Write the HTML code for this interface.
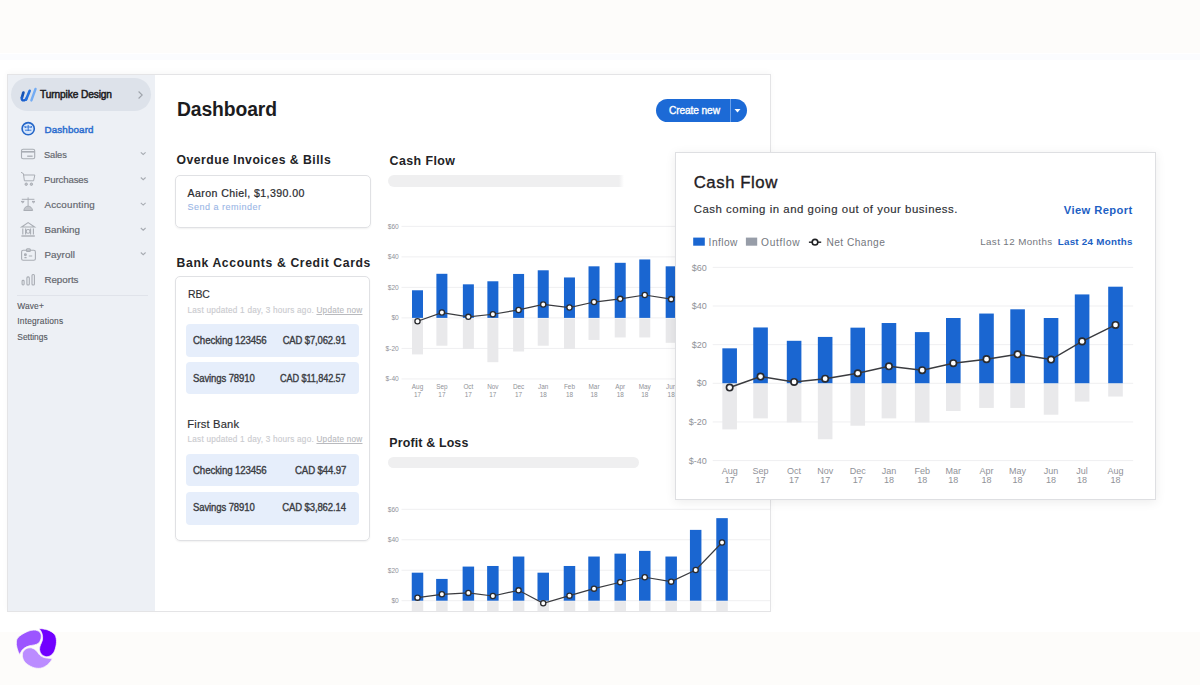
<!DOCTYPE html>
<html><head><meta charset="utf-8"><title>Wave Dashboard</title>
<style>
*{margin:0;padding:0;box-sizing:border-box}
html,body{width:1200px;height:685px;overflow:hidden;background:#fdfcfa;font-family:"Liberation Sans", sans-serif}
.t{position:absolute;white-space:pre;line-height:1;font-family:"Liberation Sans", sans-serif}
.abs{position:absolute}
svg text{font-family:"Liberation Sans", sans-serif}
</style></head><body>
<div class="abs" style="left:0;top:53px;width:1200px;height:579px;background:#fff"></div>
<div class="abs" style="left:0;top:53.5px;width:1200px;height:6px;background:#fbfcfe"></div>
<!-- frame -->
<div class="abs" style="left:7px;top:74px;width:764px;height:538px;border:1px solid #e4e4e6;background:#fff;box-shadow:0 -2px 6px rgba(0,0,0,0.03)"></div>
<div class="abs" style="left:8px;top:75px;width:147px;height:536px;background:#edf0f5"></div>
<div class="abs" style="left:11px;top:78px;width:140px;height:33px;border-radius:17px;background:#dde2ea"></div>
<div class="abs" style="left:17px;top:294.5px;width:131px;height:1px;background:#e0e3ea"></div>
<!-- create new button -->
<div class="abs" style="left:656px;top:98.5px;width:91px;height:23px;border-radius:12px;background:#1c6ad6"></div>
<div class="abs" style="left:730px;top:98.5px;width:1px;height:23px;background:#6aa0ea"></div>
<svg class="abs" style="left:0;top:0" width="1200" height="685">
<polygon points="734.5,109 740.5,109 737.5,112.5" fill="#fff"/>
</svg>
<!-- overdue card -->
<div class="abs" style="left:175px;top:175px;width:196px;height:53px;border:1px solid #e0e1e4;border-radius:5px;box-shadow:0 1px 2px rgba(0,0,0,0.06)"></div>
<!-- bank card -->
<div class="abs" style="left:175px;top:275.5px;width:195px;height:265.5px;border:1px solid #e0e1e4;border-radius:5px;box-shadow:0 1px 2px rgba(0,0,0,0.06)"></div>
<div class="abs" style="left:186px;top:324.2px;width:173px;height:32.5px;border-radius:4px;background:#e6eefb"></div>
<div class="abs" style="left:186px;top:362.2px;width:173px;height:32.3px;border-radius:4px;background:#e6eefb"></div>
<div class="abs" style="left:186px;top:454.1px;width:173px;height:32.4px;border-radius:4px;background:#e6eefb"></div>
<div class="abs" style="left:186px;top:491.8px;width:173px;height:32.8px;border-radius:4px;background:#e6eefb"></div>
<!-- skeleton bars -->
<div class="abs" style="left:388px;top:175.3px;width:236px;height:11.6px;border-radius:6px 0 0 6px;background:linear-gradient(90deg,#efeff0 0,#efeff0 231px,rgba(239,239,240,0) 236px)"></div>
<div class="abs" style="left:388.3px;top:457.3px;width:251px;height:11px;border-radius:6px;background:#efeff0"></div>
<!-- mid charts -->
<svg class="abs" style="left:0;top:0" width="1200" height="611" viewBox="0 0 1200 611">
<line x1="401.5" y1="226.34" x2="676" y2="226.34" stroke="#efeff1" stroke-width="1"/>
<text x="398.8" y="228.65" font-size="6.6" text-anchor="end" fill="#909298">$60</text>
<line x1="401.5" y1="256.86" x2="676" y2="256.86" stroke="#efeff1" stroke-width="1"/>
<text x="398.8" y="259.17" font-size="6.6" text-anchor="end" fill="#909298">$40</text>
<line x1="401.5" y1="287.38" x2="676" y2="287.38" stroke="#efeff1" stroke-width="1"/>
<text x="398.8" y="289.69" font-size="6.6" text-anchor="end" fill="#909298">$20</text>
<line x1="401.5" y1="317.90" x2="676" y2="317.90" stroke="#efeff1" stroke-width="1"/>
<text x="398.8" y="320.21" font-size="6.6" text-anchor="end" fill="#909298">$0</text>
<line x1="401.5" y1="348.42" x2="676" y2="348.42" stroke="#efeff1" stroke-width="1"/>
<text x="398.8" y="350.73" font-size="6.6" text-anchor="end" fill="#909298">$-20</text>
<line x1="401.5" y1="378.94" x2="676" y2="378.94" stroke="#efeff1" stroke-width="1"/>
<text x="398.8" y="381.25" font-size="6.6" text-anchor="end" fill="#909298">$-40</text>
<rect x="412.00" y="290.28" width="11" height="27.62" fill="#1a66d1"/>
<rect x="412.00" y="318.40" width="11" height="36.01" fill="#e9e9eb"/>
<text x="417.50" y="389.0" font-size="6.4" text-anchor="middle" fill="#909298">Aug</text>
<text x="417.50" y="396.6" font-size="6.4" text-anchor="middle" fill="#909298">17</text>
<rect x="436.39" y="273.80" width="11" height="44.10" fill="#1a66d1"/>
<rect x="436.39" y="318.40" width="11" height="27.32" fill="#e9e9eb"/>
<text x="441.89" y="389.0" font-size="6.4" text-anchor="middle" fill="#909298">Sep</text>
<text x="441.89" y="396.6" font-size="6.4" text-anchor="middle" fill="#909298">17</text>
<rect x="462.87" y="284.33" width="11" height="33.57" fill="#1a66d1"/>
<rect x="462.87" y="318.40" width="11" height="30.52" fill="#e9e9eb"/>
<text x="468.37" y="389.0" font-size="6.4" text-anchor="middle" fill="#909298">Oct</text>
<text x="468.37" y="396.6" font-size="6.4" text-anchor="middle" fill="#909298">17</text>
<rect x="487.37" y="281.28" width="11" height="36.62" fill="#1a66d1"/>
<rect x="487.37" y="318.40" width="11" height="43.80" fill="#e9e9eb"/>
<text x="492.87" y="389.0" font-size="6.4" text-anchor="middle" fill="#909298">Nov</text>
<text x="492.87" y="396.6" font-size="6.4" text-anchor="middle" fill="#909298">17</text>
<rect x="513.10" y="273.95" width="11" height="43.95" fill="#1a66d1"/>
<rect x="513.10" y="318.40" width="11" height="33.11" fill="#e9e9eb"/>
<text x="518.60" y="389.0" font-size="6.4" text-anchor="middle" fill="#909298">Dec</text>
<text x="518.60" y="396.6" font-size="6.4" text-anchor="middle" fill="#909298">17</text>
<rect x="537.73" y="270.29" width="11" height="47.61" fill="#1a66d1"/>
<rect x="537.73" y="318.40" width="11" height="27.32" fill="#e9e9eb"/>
<text x="543.23" y="389.0" font-size="6.4" text-anchor="middle" fill="#909298">Jan</text>
<text x="543.23" y="396.6" font-size="6.4" text-anchor="middle" fill="#909298">18</text>
<rect x="563.97" y="277.46" width="11" height="40.44" fill="#1a66d1"/>
<rect x="563.97" y="318.40" width="11" height="30.52" fill="#e9e9eb"/>
<text x="569.47" y="389.0" font-size="6.4" text-anchor="middle" fill="#909298">Feb</text>
<text x="569.47" y="396.6" font-size="6.4" text-anchor="middle" fill="#909298">18</text>
<rect x="588.52" y="266.32" width="11" height="51.58" fill="#1a66d1"/>
<rect x="588.52" y="318.40" width="11" height="21.52" fill="#e9e9eb"/>
<text x="594.02" y="389.0" font-size="6.4" text-anchor="middle" fill="#909298">Mar</text>
<text x="594.02" y="396.6" font-size="6.4" text-anchor="middle" fill="#909298">18</text>
<rect x="614.72" y="262.81" width="11" height="55.09" fill="#1a66d1"/>
<rect x="614.72" y="318.40" width="11" height="19.07" fill="#e9e9eb"/>
<text x="620.22" y="389.0" font-size="6.4" text-anchor="middle" fill="#909298">Apr</text>
<text x="620.22" y="396.6" font-size="6.4" text-anchor="middle" fill="#909298">18</text>
<rect x="639.27" y="259.45" width="11" height="58.45" fill="#1a66d1"/>
<rect x="639.27" y="318.40" width="11" height="19.07" fill="#e9e9eb"/>
<text x="644.77" y="389.0" font-size="6.4" text-anchor="middle" fill="#909298">May</text>
<text x="644.77" y="396.6" font-size="6.4" text-anchor="middle" fill="#909298">18</text>
<rect x="665.67" y="266.32" width="11" height="51.58" fill="#1a66d1"/>
<rect x="665.67" y="318.40" width="11" height="24.42" fill="#e9e9eb"/>
<text x="671.17" y="389.0" font-size="6.4" text-anchor="middle" fill="#909298">Jun</text>
<text x="671.17" y="396.6" font-size="6.4" text-anchor="middle" fill="#909298">18</text>
<rect x="690.18" y="247.70" width="11" height="70.20" fill="#1a66d1"/>
<rect x="690.18" y="318.40" width="11" height="14.04" fill="#e9e9eb"/>
<text x="695.68" y="389.0" font-size="6.4" text-anchor="middle" fill="#909298">Jul</text>
<text x="695.68" y="396.6" font-size="6.4" text-anchor="middle" fill="#909298">18</text>
<rect x="716.54" y="241.60" width="11" height="76.30" fill="#1a66d1"/>
<rect x="716.54" y="318.40" width="11" height="10.07" fill="#e9e9eb"/>
<text x="722.04" y="389.0" font-size="6.4" text-anchor="middle" fill="#909298">Aug</text>
<text x="722.04" y="396.6" font-size="6.4" text-anchor="middle" fill="#909298">18</text>
<polyline points="417.50,321.26 441.89,312.56 468.37,316.83 492.87,314.24 518.60,309.96 543.23,304.47 569.47,307.52 594.02,302.03 620.22,298.82 644.77,295.01 671.17,299.13 695.68,284.79 722.04,271.81" fill="none" stroke="#3a3b3f" stroke-width="1.2"/>
<circle cx="417.50" cy="321.26" r="2.6" fill="#fff" stroke="#2a2b2f" stroke-width="1.32"/>
<circle cx="441.89" cy="312.56" r="2.6" fill="#fff" stroke="#2a2b2f" stroke-width="1.32"/>
<circle cx="468.37" cy="316.83" r="2.6" fill="#fff" stroke="#2a2b2f" stroke-width="1.32"/>
<circle cx="492.87" cy="314.24" r="2.6" fill="#fff" stroke="#2a2b2f" stroke-width="1.32"/>
<circle cx="518.60" cy="309.96" r="2.6" fill="#fff" stroke="#2a2b2f" stroke-width="1.32"/>
<circle cx="543.23" cy="304.47" r="2.6" fill="#fff" stroke="#2a2b2f" stroke-width="1.32"/>
<circle cx="569.47" cy="307.52" r="2.6" fill="#fff" stroke="#2a2b2f" stroke-width="1.32"/>
<circle cx="594.02" cy="302.03" r="2.6" fill="#fff" stroke="#2a2b2f" stroke-width="1.32"/>
<circle cx="620.22" cy="298.82" r="2.6" fill="#fff" stroke="#2a2b2f" stroke-width="1.32"/>
<circle cx="644.77" cy="295.01" r="2.6" fill="#fff" stroke="#2a2b2f" stroke-width="1.32"/>
<circle cx="671.17" cy="299.13" r="2.6" fill="#fff" stroke="#2a2b2f" stroke-width="1.32"/>
<circle cx="695.68" cy="284.79" r="2.6" fill="#fff" stroke="#2a2b2f" stroke-width="1.32"/>
<circle cx="722.04" cy="271.81" r="2.6" fill="#fff" stroke="#2a2b2f" stroke-width="1.32"/>
<line x1="401.5" y1="509.32" x2="770" y2="509.32" stroke="#efeff1" stroke-width="1"/>
<text x="398.8" y="511.63" font-size="6.6" text-anchor="end" fill="#909298">$60</text>
<line x1="401.5" y1="539.78" x2="770" y2="539.78" stroke="#efeff1" stroke-width="1"/>
<text x="398.8" y="542.09" font-size="6.6" text-anchor="end" fill="#909298">$40</text>
<line x1="401.5" y1="570.24" x2="770" y2="570.24" stroke="#efeff1" stroke-width="1"/>
<text x="398.8" y="572.55" font-size="6.6" text-anchor="end" fill="#909298">$20</text>
<line x1="401.5" y1="600.70" x2="770" y2="600.70" stroke="#efeff1" stroke-width="1"/>
<text x="398.8" y="603.01" font-size="6.6" text-anchor="end" fill="#909298">$0</text>
<line x1="401.5" y1="631.16" x2="770" y2="631.16" stroke="#efeff1" stroke-width="1"/>
<text x="398.8" y="633.47" font-size="6.6" text-anchor="end" fill="#909298">$-20</text>
<line x1="401.5" y1="661.62" x2="770" y2="661.62" stroke="#efeff1" stroke-width="1"/>
<text x="398.8" y="663.93" font-size="6.6" text-anchor="end" fill="#909298">$-40</text>
<rect x="411.75" y="572.68" width="11.5" height="28.02" fill="#1a66d1"/>
<rect x="411.75" y="601.20" width="11.5" height="12.18" fill="#e9e9eb"/>
<rect x="436.14" y="578.92" width="11.5" height="21.78" fill="#1a66d1"/>
<rect x="436.14" y="601.20" width="11.5" height="12.18" fill="#e9e9eb"/>
<rect x="462.62" y="566.58" width="11.5" height="34.12" fill="#1a66d1"/>
<rect x="462.62" y="601.20" width="11.5" height="12.18" fill="#e9e9eb"/>
<rect x="487.12" y="565.98" width="11.5" height="34.72" fill="#1a66d1"/>
<rect x="487.12" y="601.20" width="11.5" height="12.18" fill="#e9e9eb"/>
<rect x="512.85" y="556.53" width="11.5" height="44.17" fill="#1a66d1"/>
<rect x="512.85" y="601.20" width="11.5" height="12.18" fill="#e9e9eb"/>
<rect x="537.48" y="572.68" width="11.5" height="28.02" fill="#1a66d1"/>
<rect x="537.48" y="601.20" width="11.5" height="12.18" fill="#e9e9eb"/>
<rect x="563.72" y="565.98" width="11.5" height="34.72" fill="#1a66d1"/>
<rect x="563.72" y="601.20" width="11.5" height="12.18" fill="#e9e9eb"/>
<rect x="588.27" y="556.53" width="11.5" height="44.17" fill="#1a66d1"/>
<rect x="588.27" y="601.20" width="11.5" height="12.18" fill="#e9e9eb"/>
<rect x="614.47" y="553.64" width="11.5" height="47.06" fill="#1a66d1"/>
<rect x="614.47" y="601.20" width="11.5" height="12.18" fill="#e9e9eb"/>
<rect x="639.02" y="550.90" width="11.5" height="49.80" fill="#1a66d1"/>
<rect x="639.02" y="601.20" width="11.5" height="12.18" fill="#e9e9eb"/>
<rect x="665.42" y="556.53" width="11.5" height="44.17" fill="#1a66d1"/>
<rect x="665.42" y="601.20" width="11.5" height="12.18" fill="#e9e9eb"/>
<rect x="689.93" y="529.88" width="11.5" height="70.82" fill="#1a66d1"/>
<rect x="689.93" y="601.20" width="11.5" height="12.18" fill="#e9e9eb"/>
<rect x="716.29" y="518.15" width="11.5" height="82.55" fill="#1a66d1"/>
<rect x="716.29" y="601.20" width="11.5" height="12.18" fill="#e9e9eb"/>
<polyline points="417.50,597.65 441.89,594.30 468.37,592.93 492.87,595.98 518.60,590.34 543.23,603.29 569.47,595.67 594.02,588.67 620.22,582.27 644.77,577.25 671.17,581.66 695.68,569.94 722.04,542.52" fill="none" stroke="#3a3b3f" stroke-width="1.2"/>
<circle cx="417.50" cy="597.65" r="2.6" fill="#fff" stroke="#2a2b2f" stroke-width="1.32"/>
<circle cx="441.89" cy="594.30" r="2.6" fill="#fff" stroke="#2a2b2f" stroke-width="1.32"/>
<circle cx="468.37" cy="592.93" r="2.6" fill="#fff" stroke="#2a2b2f" stroke-width="1.32"/>
<circle cx="492.87" cy="595.98" r="2.6" fill="#fff" stroke="#2a2b2f" stroke-width="1.32"/>
<circle cx="518.60" cy="590.34" r="2.6" fill="#fff" stroke="#2a2b2f" stroke-width="1.32"/>
<circle cx="543.23" cy="603.29" r="2.6" fill="#fff" stroke="#2a2b2f" stroke-width="1.32"/>
<circle cx="569.47" cy="595.67" r="2.6" fill="#fff" stroke="#2a2b2f" stroke-width="1.32"/>
<circle cx="594.02" cy="588.67" r="2.6" fill="#fff" stroke="#2a2b2f" stroke-width="1.32"/>
<circle cx="620.22" cy="582.27" r="2.6" fill="#fff" stroke="#2a2b2f" stroke-width="1.32"/>
<circle cx="644.77" cy="577.25" r="2.6" fill="#fff" stroke="#2a2b2f" stroke-width="1.32"/>
<circle cx="671.17" cy="581.66" r="2.6" fill="#fff" stroke="#2a2b2f" stroke-width="1.32"/>
<circle cx="695.68" cy="569.94" r="2.6" fill="#fff" stroke="#2a2b2f" stroke-width="1.32"/>
<circle cx="722.04" cy="542.52" r="2.6" fill="#fff" stroke="#2a2b2f" stroke-width="1.32"/>
</svg>
<!-- popup -->
<div class="abs" style="left:674.8px;top:152px;width:481.3px;height:348px;background:#fff;border:1px solid #dedfe2;box-shadow:0 2px 10px rgba(0,0,0,0.08)"></div>
<svg class="abs" style="left:0;top:0" width="1200" height="685">
<line x1="712.7" y1="267.38" x2="1133.2" y2="267.38" stroke="#efeff1" stroke-width="1"/>
<text x="706.8" y="270.53" font-size="9.0" text-anchor="end" fill="#909298">$60</text>
<line x1="712.7" y1="306.02" x2="1133.2" y2="306.02" stroke="#efeff1" stroke-width="1"/>
<text x="706.8" y="309.17" font-size="9.0" text-anchor="end" fill="#909298">$40</text>
<line x1="712.7" y1="344.66" x2="1133.2" y2="344.66" stroke="#efeff1" stroke-width="1"/>
<text x="706.8" y="347.81" font-size="9.0" text-anchor="end" fill="#909298">$20</text>
<line x1="712.7" y1="383.30" x2="1133.2" y2="383.30" stroke="#efeff1" stroke-width="1"/>
<text x="706.8" y="386.45" font-size="9.0" text-anchor="end" fill="#909298">$0</text>
<line x1="712.7" y1="421.94" x2="1133.2" y2="421.94" stroke="#efeff1" stroke-width="1"/>
<text x="706.8" y="425.09" font-size="9.0" text-anchor="end" fill="#909298">$-20</text>
<line x1="712.7" y1="460.58" x2="1133.2" y2="460.58" stroke="#efeff1" stroke-width="1"/>
<text x="706.8" y="463.73" font-size="9.0" text-anchor="end" fill="#909298">$-40</text>
<rect x="722.35" y="348.33" width="14.6" height="34.97" fill="#1a66d1"/>
<rect x="722.35" y="383.80" width="14.6" height="45.60" fill="#e9e9eb"/>
<text x="729.65" y="473.8" font-size="9.0" text-anchor="middle" fill="#909298">Aug</text>
<text x="729.65" y="483.3" font-size="9.0" text-anchor="middle" fill="#909298">17</text>
<rect x="753.25" y="327.47" width="14.6" height="55.83" fill="#1a66d1"/>
<rect x="753.25" y="383.80" width="14.6" height="34.58" fill="#e9e9eb"/>
<text x="760.55" y="473.8" font-size="9.0" text-anchor="middle" fill="#909298">Sep</text>
<text x="760.55" y="483.3" font-size="9.0" text-anchor="middle" fill="#909298">17</text>
<rect x="786.80" y="340.80" width="14.6" height="42.50" fill="#1a66d1"/>
<rect x="786.80" y="383.80" width="14.6" height="38.64" fill="#e9e9eb"/>
<text x="794.10" y="473.8" font-size="9.0" text-anchor="middle" fill="#909298">Oct</text>
<text x="794.10" y="483.3" font-size="9.0" text-anchor="middle" fill="#909298">17</text>
<rect x="817.85" y="336.93" width="14.6" height="46.37" fill="#1a66d1"/>
<rect x="817.85" y="383.80" width="14.6" height="55.45" fill="#e9e9eb"/>
<text x="825.15" y="473.8" font-size="9.0" text-anchor="middle" fill="#909298">Nov</text>
<text x="825.15" y="483.3" font-size="9.0" text-anchor="middle" fill="#909298">17</text>
<rect x="850.45" y="327.66" width="14.6" height="55.64" fill="#1a66d1"/>
<rect x="850.45" y="383.80" width="14.6" height="41.92" fill="#e9e9eb"/>
<text x="857.75" y="473.8" font-size="9.0" text-anchor="middle" fill="#909298">Dec</text>
<text x="857.75" y="483.3" font-size="9.0" text-anchor="middle" fill="#909298">17</text>
<rect x="881.65" y="323.02" width="14.6" height="60.28" fill="#1a66d1"/>
<rect x="881.65" y="383.80" width="14.6" height="34.58" fill="#e9e9eb"/>
<text x="888.95" y="473.8" font-size="9.0" text-anchor="middle" fill="#909298">Jan</text>
<text x="888.95" y="483.3" font-size="9.0" text-anchor="middle" fill="#909298">18</text>
<rect x="914.90" y="332.10" width="14.6" height="51.20" fill="#1a66d1"/>
<rect x="914.90" y="383.80" width="14.6" height="38.64" fill="#e9e9eb"/>
<text x="922.20" y="473.8" font-size="9.0" text-anchor="middle" fill="#909298">Feb</text>
<text x="922.20" y="483.3" font-size="9.0" text-anchor="middle" fill="#909298">18</text>
<rect x="946.00" y="318.00" width="14.6" height="65.30" fill="#1a66d1"/>
<rect x="946.00" y="383.80" width="14.6" height="27.24" fill="#e9e9eb"/>
<text x="953.30" y="473.8" font-size="9.0" text-anchor="middle" fill="#909298">Mar</text>
<text x="953.30" y="483.3" font-size="9.0" text-anchor="middle" fill="#909298">18</text>
<rect x="979.20" y="313.55" width="14.6" height="69.75" fill="#1a66d1"/>
<rect x="979.20" y="383.80" width="14.6" height="24.15" fill="#e9e9eb"/>
<text x="986.50" y="473.8" font-size="9.0" text-anchor="middle" fill="#909298">Apr</text>
<text x="986.50" y="483.3" font-size="9.0" text-anchor="middle" fill="#909298">18</text>
<rect x="1010.30" y="309.30" width="14.6" height="74.00" fill="#1a66d1"/>
<rect x="1010.30" y="383.80" width="14.6" height="24.15" fill="#e9e9eb"/>
<text x="1017.60" y="473.8" font-size="9.0" text-anchor="middle" fill="#909298">May</text>
<text x="1017.60" y="483.3" font-size="9.0" text-anchor="middle" fill="#909298">18</text>
<rect x="1043.75" y="318.00" width="14.6" height="65.30" fill="#1a66d1"/>
<rect x="1043.75" y="383.80" width="14.6" height="30.91" fill="#e9e9eb"/>
<text x="1051.05" y="473.8" font-size="9.0" text-anchor="middle" fill="#909298">Jun</text>
<text x="1051.05" y="483.3" font-size="9.0" text-anchor="middle" fill="#909298">18</text>
<rect x="1074.80" y="294.43" width="14.6" height="88.87" fill="#1a66d1"/>
<rect x="1074.80" y="383.80" width="14.6" height="17.77" fill="#e9e9eb"/>
<text x="1082.10" y="473.8" font-size="9.0" text-anchor="middle" fill="#909298">Jul</text>
<text x="1082.10" y="483.3" font-size="9.0" text-anchor="middle" fill="#909298">18</text>
<rect x="1108.20" y="286.70" width="14.6" height="96.60" fill="#1a66d1"/>
<rect x="1108.20" y="383.80" width="14.6" height="12.75" fill="#e9e9eb"/>
<text x="1115.50" y="473.8" font-size="9.0" text-anchor="middle" fill="#909298">Aug</text>
<text x="1115.50" y="483.3" font-size="9.0" text-anchor="middle" fill="#909298">18</text>
<polyline points="729.65,387.55 760.55,376.54 794.10,381.95 825.15,378.66 857.75,373.25 888.95,366.30 922.20,370.16 953.30,363.21 986.50,359.15 1017.60,354.32 1051.05,359.54 1082.10,341.38 1115.50,324.95" fill="none" stroke="#3a3b3f" stroke-width="1.5"/>
<circle cx="729.65" cy="387.55" r="3.2" fill="#fff" stroke="#2a2b2f" stroke-width="1.65"/>
<circle cx="760.55" cy="376.54" r="3.2" fill="#fff" stroke="#2a2b2f" stroke-width="1.65"/>
<circle cx="794.10" cy="381.95" r="3.2" fill="#fff" stroke="#2a2b2f" stroke-width="1.65"/>
<circle cx="825.15" cy="378.66" r="3.2" fill="#fff" stroke="#2a2b2f" stroke-width="1.65"/>
<circle cx="857.75" cy="373.25" r="3.2" fill="#fff" stroke="#2a2b2f" stroke-width="1.65"/>
<circle cx="888.95" cy="366.30" r="3.2" fill="#fff" stroke="#2a2b2f" stroke-width="1.65"/>
<circle cx="922.20" cy="370.16" r="3.2" fill="#fff" stroke="#2a2b2f" stroke-width="1.65"/>
<circle cx="953.30" cy="363.21" r="3.2" fill="#fff" stroke="#2a2b2f" stroke-width="1.65"/>
<circle cx="986.50" cy="359.15" r="3.2" fill="#fff" stroke="#2a2b2f" stroke-width="1.65"/>
<circle cx="1017.60" cy="354.32" r="3.2" fill="#fff" stroke="#2a2b2f" stroke-width="1.65"/>
<circle cx="1051.05" cy="359.54" r="3.2" fill="#fff" stroke="#2a2b2f" stroke-width="1.65"/>
<circle cx="1082.10" cy="341.38" r="3.2" fill="#fff" stroke="#2a2b2f" stroke-width="1.65"/>
<circle cx="1115.50" cy="324.95" r="3.2" fill="#fff" stroke="#2a2b2f" stroke-width="1.65"/>
<rect x="693.2" y="237.6" width="11.6" height="8.1" fill="#1a66d1"/>
<rect x="745.9" y="237.6" width="11.3" height="8.1" fill="#979da8"/>
<line x1="808.9" y1="242.2" x2="821.2" y2="242.2" stroke="#1f2023" stroke-width="1.4"/>
<circle cx="815" cy="242.2" r="2.8" fill="#fff" stroke="#1f2023" stroke-width="1.6"/>
</svg>

<svg class="abs" style="left:0;top:0" width="200" height="350">
<!-- wave logo -->
<g fill="none" stroke-linecap="round">
<path d="M23.4,92.6 L21.9,97.6" stroke="#1452b4" stroke-width="2.7"/>
<path d="M21.9,97.6 Q21.2,100.8 24.4,100.3 Q25.8,100 26.4,98.6" stroke="#1b5fcc" stroke-width="2.5"/>
<path d="M29.7,90.8 L26.1,99.6" stroke="#2571dc" stroke-width="2.6"/>
<path d="M35.5,89 L31.4,100.4" stroke="#74acf3" stroke-width="2.4"/>
</g>
<!-- pill chevron -->
<path d="M138.6,91.5 L142.2,95 L138.6,98.5" fill="none" stroke="#9ea3ab" stroke-width="1.1"/>
<!-- dashboard icon -->
<circle cx="28.2" cy="128.7" r="6.1" fill="#d5e5fb" stroke="#2466c8" stroke-width="1.6"/>
<path d="M24.5,127 L31.9,127 M28.2,125 L28.2,131 M25,130.2 L31.4,130.2 M24.8,126 l0.8,2 M31.6,126 l-0.8,2" stroke="#2d6fd2" stroke-width="0.9" fill="none"/>
<!-- sales -->
<g fill="none" stroke="#a9adb4" stroke-width="1.1">
<rect x="21.5" y="149.2" width="13.2" height="9.6" rx="1.6"/>
<path d="M21.5,151.8 H34.7" stroke-width="1.6"/>
<path d="M27.2,156.2 H32.6" stroke-width="1.3"/>
</g>
<!-- purchases -->
<g fill="none" stroke="#a9adb4" stroke-width="1" stroke-linejoin="round">
<path d="M21,172.3 L23.4,173.6 L24.4,180.8 L33.6,180.8 L34.8,175 L23.7,175"/>
<circle cx="26.2" cy="184.2" r="1.2" fill="#c3c6cc"/>
<circle cx="31.4" cy="184.2" r="1.2" fill="#c3c6cc"/>
</g>
<!-- accounting -->
<g fill="none" stroke="#a9adb4" stroke-width="1">
<path d="M21.8,199.3 H34.4 M28.1,197.4 V206.3"/>
<path d="M21.2,201.4 Q22.7,204.2 24.2,201.4 Z M32,201.4 Q33.5,204.2 35,201.4 Z" fill="#c3c6cc"/>
<path d="M23.8,210.5 Q24.6,206.2 28.1,206.2 Q31.6,206.2 32.6,210.5 Z" fill="#c3c6cc"/>
</g>
<!-- banking -->
<g fill="none" stroke="#a9adb4" stroke-width="1.1">
<path d="M21.6,227 L28.1,222.6 L34.6,227 Z"/>
<path d="M22.8,228.6 V234.4 M25.6,228.6 V234.4 M30.6,228.6 V234.4 M33.4,228.6 V234.4"/>
<circle cx="28.1" cy="231.4" r="1.9"/>
<path d="M21.4,236 H34.8" stroke-width="1.4"/>
</g>
<!-- payroll -->
<g fill="none" stroke="#a9adb4" stroke-width="1.1">
<rect x="21.6" y="250.3" width="13.8" height="10" rx="1.6"/>
<rect x="26.4" y="248.9" width="4" height="2.6" rx="1"/>
<circle cx="25.4" cy="254.8" r="0.9" fill="#b5b9c0"/>
<path d="M24.4,257.6 H26.6 M28.8,256 H32.2" />
</g>
<!-- reports -->
<g fill="none" stroke="#a9adb4" stroke-width="1.1">
<rect x="22.1" y="280.4" width="2" height="4.6" rx="0.9"/>
<rect x="26.9" y="276.9" width="2.4" height="8.1" rx="1"/>
<rect x="32" y="274.5" width="2.4" height="10.5" rx="1"/>
</g>
<!-- chevrons -->
<g fill="none" stroke="#a7abb2" stroke-width="1.05">
<path d="M140.8,152.3 l2.4,2.2 l2.4,-2.2"/>
<path d="M140.8,177.5 l2.4,2.2 l2.4,-2.2"/>
<path d="M140.8,202.9 l2.4,2.2 l2.4,-2.2"/>
<path d="M140.8,228 l2.4,2.2 l2.4,-2.2"/>
<path d="M140.8,252.5 l2.4,2.2 l2.4,-2.2"/>
</g>
</svg>
<!-- purple logo -->
<svg class="abs" style="left:10px;top:620px" width="55" height="55" viewBox="0 0 685 685">
<g stroke="#fdfcfa" stroke-width="9" stroke-linejoin="round">
<path d="M120,432 C95,380 72,320 80,262 C88,215 140,180 205,150 C265,120 330,115 370,150 C400,180 395,240 360,285 C330,312 280,312 240,322 C190,335 150,365 130,410 Z" fill="#9c55ff"/>
<path d="M362,108 C430,105 520,130 560,185 C590,240 580,320 555,385 C530,440 480,465 440,455 C400,445 372,415 368,370 C365,320 395,290 405,245 C412,190 395,140 362,108 Z" fill="#7100ff"/>
<path d="M160,400 C180,360 225,340 270,348 C315,358 340,395 360,425 C390,462 440,480 528,478 C500,535 450,585 380,600 C310,610 240,575 195,535 C160,500 145,450 160,400 Z" fill="#bb8cff"/>
</g>
</svg>

<div class="t" style="left:40.00px;top:89.57px;font-size:10.2px;font-weight:400;color:#1d1d1f;letter-spacing:-0.120px;transform:scaleX(0.9982);transform-origin:left center;-webkit-text-stroke:0.5px #1d1d1f;">Turnpike Design</div><div class="t" style="left:44.50px;top:124.70px;font-size:9.8px;font-weight:400;color:#2b6dcf;letter-spacing:0.133px;-webkit-text-stroke:0.45px #2b6dcf;">Dashboard</div><div class="t" style="left:44.40px;top:150.00px;font-size:9.8px;font-weight:400;color:#63666d;letter-spacing:-0.120px;transform:scaleX(0.9486);transform-origin:left center;-webkit-text-stroke:0.18px #63666d;">Sales</div><div class="t" style="left:44.40px;top:175.00px;font-size:9.8px;font-weight:400;color:#63666d;letter-spacing:-0.120px;transform:scaleX(0.9793);transform-origin:left center;-webkit-text-stroke:0.18px #63666d;">Purchases</div><div class="t" style="left:44.40px;top:200.20px;font-size:9.8px;font-weight:400;color:#63666d;letter-spacing:0.213px;-webkit-text-stroke:0.18px #63666d;">Accounting</div><div class="t" style="left:44.40px;top:225.20px;font-size:9.8px;font-weight:400;color:#63666d;letter-spacing:0.032px;-webkit-text-stroke:0.18px #63666d;">Banking</div><div class="t" style="left:44.40px;top:250.20px;font-size:9.8px;font-weight:400;color:#63666d;letter-spacing:0.108px;-webkit-text-stroke:0.18px #63666d;">Payroll</div><div class="t" style="left:44.40px;top:275.20px;font-size:9.8px;font-weight:400;color:#63666d;letter-spacing:-0.035px;-webkit-text-stroke:0.18px #63666d;">Reports</div><div class="t" style="left:17.30px;top:301.69px;font-size:8.4px;font-weight:400;color:#55585e;letter-spacing:0.125px;-webkit-text-stroke:0.12px #55585e;">Wave+</div><div class="t" style="left:17.30px;top:317.19px;font-size:8.4px;font-weight:400;color:#55585e;letter-spacing:0.185px;-webkit-text-stroke:0.12px #55585e;">Integrations</div><div class="t" style="left:17.30px;top:332.99px;font-size:8.4px;font-weight:400;color:#55585e;letter-spacing:0.005px;-webkit-text-stroke:0.12px #55585e;">Settings</div><div class="t" style="left:177.00px;top:99.99px;font-size:19.5px;font-weight:700;color:#1c1c1e;letter-spacing:-0.120px;transform:scaleX(0.9911);transform-origin:left center;">Dashboard</div><div class="t" style="left:668.50px;top:106.08px;font-size:10.3px;font-weight:400;color:#ffffff;letter-spacing:-0.120px;transform:scaleX(0.9888);transform-origin:left center;-webkit-text-stroke:0.35px #ffffff;">Create new</div><div class="t" style="left:176.60px;top:154.47px;font-size:12.2px;font-weight:700;color:#222326;letter-spacing:0.486px;">Overdue Invoices &amp; Bills</div><div class="t" style="left:187.50px;top:188.43px;font-size:10.6px;font-weight:400;color:#2a2b2f;letter-spacing:0.406px;-webkit-text-stroke:0.22px #2a2b2f;">Aaron Chiel, $1,390.00</div><div class="t" style="left:187.50px;top:202.78px;font-size:9.0px;font-weight:400;color:#9ab6e6;letter-spacing:0.497px;-webkit-text-stroke:0.1px #9ab6e6;">Send a reminder</div><div class="t" style="left:176.60px;top:256.77px;font-size:12.2px;font-weight:700;color:#222326;letter-spacing:0.623px;">Bank Accounts &amp; Credit Cards</div><div class="t" style="left:187.50px;top:289.12px;font-size:11.2px;font-weight:400;color:#2e2f33;letter-spacing:-0.120px;transform:scaleX(0.9365);transform-origin:left center;-webkit-text-stroke:0.15px #2e2f33;">RBC</div><div class="t" style="left:187.30px;top:419.02px;font-size:11.2px;font-weight:400;color:#2e2f33;letter-spacing:0.160px;-webkit-text-stroke:0.15px #2e2f33;">First Bank</div><div class="t" style="left:187.50px;top:306.86px;font-size:8.2px;font-weight:400;color:#cbccd0;letter-spacing:0.229px;-webkit-text-stroke:0.15px #cbccd0;">Last updated 1 day, 3 hours ago. <span style="text-decoration:underline;color:#b9babe;-webkit-text-stroke:0.12px #b9babe">Update now</span></div><div class="t" style="left:187.50px;top:436.36px;font-size:8.2px;font-weight:400;color:#cbccd0;letter-spacing:0.229px;-webkit-text-stroke:0.15px #cbccd0;">Last updated 1 day, 3 hours ago. <span style="text-decoration:underline;color:#b9babe;-webkit-text-stroke:0.12px #b9babe">Update now</span></div><div class="t" style="left:193.30px;top:336.34px;font-size:10.0px;font-weight:400;color:#3a3c42;letter-spacing:-0.120px;transform:scaleX(0.9677);transform-origin:left center;-webkit-text-stroke:0.35px #3a3c42;">Checking 123456</div><div class="t" style="left:279.05px;top:336.34px;font-size:10.0px;font-weight:400;color:#3a3c42;letter-spacing:-0.120px;transform:scaleX(0.9455);transform-origin:right center;-webkit-text-stroke:0.35px #3a3c42;">CAD $7,062.91</div><div class="t" style="left:193.30px;top:373.54px;font-size:10.0px;font-weight:400;color:#3a3c42;letter-spacing:-0.120px;transform:scaleX(0.9532);transform-origin:left center;-webkit-text-stroke:0.35px #3a3c42;">Savings 78910</div><div class="t" style="left:274.36px;top:373.54px;font-size:10.0px;font-weight:400;color:#3a3c42;letter-spacing:-0.120px;transform:scaleX(0.9156);transform-origin:right center;-webkit-text-stroke:0.35px #3a3c42;">CAD $11,842.57</div><div class="t" style="left:193.30px;top:465.64px;font-size:10.0px;font-weight:400;color:#3a3c42;letter-spacing:-0.120px;transform:scaleX(0.9677);transform-origin:left center;-webkit-text-stroke:0.35px #3a3c42;">Checking 123456</div><div class="t" style="left:292.60px;top:465.64px;font-size:10.0px;font-weight:400;color:#3a3c42;letter-spacing:-0.120px;transform:scaleX(0.9625);transform-origin:right center;-webkit-text-stroke:0.35px #3a3c42;">CAD $44.97</div><div class="t" style="left:193.30px;top:503.04px;font-size:10.0px;font-weight:400;color:#3a3c42;letter-spacing:-0.120px;transform:scaleX(0.9532);transform-origin:left center;-webkit-text-stroke:0.35px #3a3c42;">Savings 78910</div><div class="t" style="left:279.05px;top:503.04px;font-size:10.0px;font-weight:400;color:#3a3c42;letter-spacing:-0.120px;transform:scaleX(0.9514);transform-origin:right center;-webkit-text-stroke:0.35px #3a3c42;">CAD $3,862.14</div><div class="t" style="left:389.50px;top:154.70px;font-size:12.4px;font-weight:700;color:#222326;letter-spacing:0.441px;">Cash Flow</div><div class="t" style="left:389.30px;top:437.00px;font-size:12.4px;font-weight:700;color:#222326;letter-spacing:0.158px;">Profit &amp; Loss</div><div class="t" style="left:693.70px;top:175.18px;font-size:16.8px;font-weight:400;color:#1f2023;letter-spacing:0.540px;-webkit-text-stroke:0.35px #1f2023;">Cash Flow</div><div class="t" style="left:693.70px;top:204.25px;font-size:11.4px;font-weight:400;color:#2d2e32;letter-spacing:0.529px;-webkit-text-stroke:0.15px #2d2e32;">Cash coming in and going out of your business.</div><div class="t" style="left:1063.75px;top:204.52px;font-size:11.2px;font-weight:700;color:#1d5fc4;letter-spacing:0.415px;">View Report</div><div class="t" style="left:708.60px;top:237.57px;font-size:10.2px;font-weight:400;color:#74777e;letter-spacing:0.455px;">Inflow</div><div class="t" style="left:761.10px;top:237.57px;font-size:10.2px;font-weight:400;color:#74777e;letter-spacing:0.659px;">Outflow</div><div class="t" style="left:826.40px;top:237.57px;font-size:10.2px;font-weight:400;color:#74777e;letter-spacing:0.458px;">Net Change</div><div class="t" style="left:980.20px;top:237.10px;font-size:9.8px;font-weight:400;color:#74777e;letter-spacing:0.385px;">Last 12 Months</div><div class="t" style="left:1057.70px;top:237.10px;font-size:9.8px;font-weight:700;color:#1d5fc4;letter-spacing:0.261px;">Last 24 Months</div>
</body></html>
